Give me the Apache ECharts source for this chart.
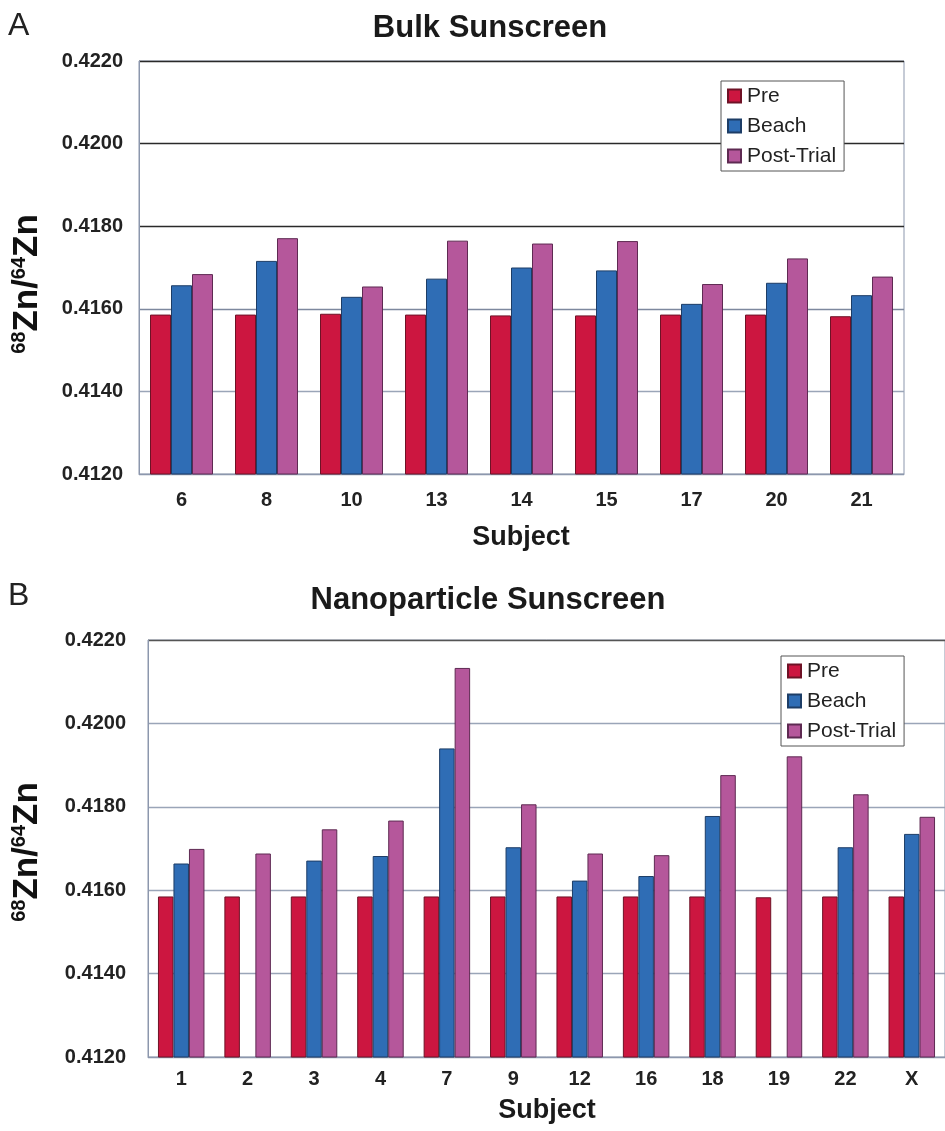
<!DOCTYPE html>
<html>
<head>
<meta charset="utf-8">
<script src="https://cdn.jsdelivr.net/npm/echarts@6/dist/echarts.min.js"></script>
<style>
html,body{margin:0;padding:0;background:#fff;}
#c{width:945px;height:1131px;}
</style>
</head>
<body>
<div id="c"></div>
<script>
// ---- Data ----
var seriesNames = ['Pre', 'Beach', 'Post-Trial'];
var yTicks = ['0.4120', '0.4140', '0.4160', '0.4180', '0.4200', '0.4220'];

// Panel A: Bulk Sunscreen
var catsA = ['6', '8', '10', '13', '14', '15', '17', '20', '21'];
var preA = [0.41586, 0.41586, 0.41588, 0.41586, 0.41584, 0.41584, 0.41586, 0.41586, 0.41582];
var beachA = [0.41657, 0.41716, 0.41629, 0.41673, 0.41700, 0.41693, 0.41612, 0.41663, 0.41633];
var postA = [0.41684, 0.41771, 0.41654, 0.41765, 0.41758, 0.41764, 0.41660, 0.41722, 0.41678];

// Panel B: Nanoparticle Sunscreen
var catsB = ['1', '2', '3', '4', '7', '9', '12', '16', '18', '19', '22', 'X'];
var preB = [0.41585, 0.41585, 0.41585, 0.41585, 0.41585, 0.41585, 0.41585, 0.41585, 0.41585, 0.41583, 0.41585, 0.41585];
var beachB = [0.41664, null, 0.41671, 0.41682, 0.41940, 0.41703, 0.41623, 0.41634, 0.41778, null, 0.41703, 0.41735];
var postB = [0.41699, 0.41688, 0.41746, 0.41767, 0.42133, 0.41806, 0.41688, 0.41684, 0.41876, 0.41921, 0.41830, 0.41776];

// ---- Styling ----
var FONT = '"Liberation Sans", Arial, Helvetica, sans-serif';
var colors = ['#cc1640', '#2f6db5', '#b5579b'];
var borders = ['#6e1226', '#1d3d66', '#5e2a52'];
var yMin = 0.412, yMax = 0.422, yStep = 0.002;

var chart = echarts.init(document.getElementById('c'), null, {renderer: 'canvas'});

function xAxisCfg(idx, cats, margin) {
  return {
    type: 'category', gridIndex: idx, data: cats,
    axisTick: {show: false},
    axisLine: {lineStyle: {color: '#8c97ad', width: 1}},
    axisLabel: {fontFamily: FONT, fontWeight: 'bold', fontSize: 20, color: '#222', margin: margin}
  };
}
function yAxisCfg(idx, lineColors, lineWidths, margin) {
  return {
    type: 'value', gridIndex: idx, min: yMin, max: yMax, interval: yStep,
    axisLine: {show: true, lineStyle: {color: '#8c97ad'}},
    axisTick: {show: false},
    splitLine: {show: true, lineStyle: {color: lineColors, width: lineWidths}},
    axisLabel: {
      fontFamily: FONT, fontWeight: 'bold', fontSize: 20, color: '#222', margin: margin,
      formatter: function (v) { return v.toFixed(4); }
    }
  };
}
function barSeries(name, i, xi, data, w) {
  return {
    name: name, type: 'bar', xAxisIndex: xi, yAxisIndex: xi, data: data,
    barWidth: w, barGap: '0%', clip: true,
    itemStyle: {color: colors[i], borderColor: borders[i], borderWidth: 1},
    emphasis: {disabled: true},
    animation: false
  };
}
function legendCfg(left, top) {
  return {
    orient: 'vertical', left: left, top: top,
    data: seriesNames,
    icon: 'rect', itemWidth: 13, itemHeight: 13, itemGap: 8,
    padding: [4, 8, 4, 6],
    borderColor: '#555', borderWidth: 1, backgroundColor: '#fff',
    textStyle: {fontFamily: FONT, fontSize: 21, color: '#222', lineHeight: 22, padding: [0, 0, 0, 1]}
  };
}

var yTitleRich = {
  s: {fontFamily: FONT, fontSize: 20, fontWeight: 'bold', fill: '#111', color: '#111', verticalAlign: 'top', padding: [0, 0, 14, 0]},
  m: {fontFamily: FONT, fontSize: 35, fontWeight: 'bold', fill: '#111', color: '#111'}
};
var yTitleText = '{s|68}{m|Zn/}{s|64}{m|Zn}';

var option = {
  backgroundColor: '#fff',
  animation: false,
  grid: [
    {left: 139, top: 61, width: 765, height: 413, show: true, borderColor: '#8c97ad', borderWidth: 1, containLabel: false},
    {left: 148, top: 640, width: 800, height: 417, show: true, borderColor: '#8c97ad', borderWidth: 1, containLabel: false}
  ],
  xAxis: [xAxisCfg(0, catsA, 16), xAxisCfg(1, catsB, 12)],
  yAxis: [
    yAxisCfg(0, ['#8c97ad', '#9aa5b8', '#7d889e', '#2a2a2a', '#2a2a2a', '#2a2a2a'], 1.3, 16),
    yAxisCfg(1, ['#8c97ad', '#9aa5b8', '#9aa5b8', '#9aa5b8', '#9aa5b8', '#555'], 1.3, 22)
  ],
  legend: [legendCfg(721, 81), legendCfg(781, 656)],
  series: [
    barSeries('Pre', 0, 0, preA, 21),
    barSeries('Beach', 1, 0, beachA, 21),
    barSeries('Post-Trial', 2, 0, postA, 21),
    barSeries('Pre', 0, 1, preB, 15.5),
    barSeries('Beach', 1, 1, beachB, 15.5),
    barSeries('Post-Trial', 2, 1, postB, 15.5)
  ],
  graphic: [
    {type: 'text', left: 8, top: 10, style: {text: 'A', font: 'normal 32px ' + FONT, fill: '#222'}},
    {type: 'text', left: 8, top: 580, style: {text: 'B', font: 'normal 32px ' + FONT, fill: '#222'}},
    {type: 'text', x: 490, y: 28, style: {text: 'Bulk Sunscreen', font: 'bold 31px ' + FONT, fill: '#1a1a1a', align: 'center', verticalAlign: 'middle'}},
    {type: 'text', x: 488, y: 600, style: {text: 'Nanoparticle Sunscreen', font: 'bold 31px ' + FONT, fill: '#1a1a1a', align: 'center', verticalAlign: 'middle'}},
    {type: 'text', x: 521, y: 538, style: {text: 'Subject', font: 'bold 27px ' + FONT, fill: '#1a1a1a', align: 'center', verticalAlign: 'middle'}},
    {type: 'text', x: 547, y: 1111, style: {text: 'Subject', font: 'bold 27px ' + FONT, fill: '#1a1a1a', align: 'center', verticalAlign: 'middle'}},
    {type: 'text', x: 27, y: 284, rotation: Math.PI / 2, style: {text: yTitleText, rich: yTitleRich, align: 'center', verticalAlign: 'middle'}},
    {type: 'text', x: 27, y: 852, rotation: Math.PI / 2, style: {text: yTitleText, rich: yTitleRich, align: 'center', verticalAlign: 'middle'}}
  ]
};
chart.setOption(option);
</script>
</body>
</html>
